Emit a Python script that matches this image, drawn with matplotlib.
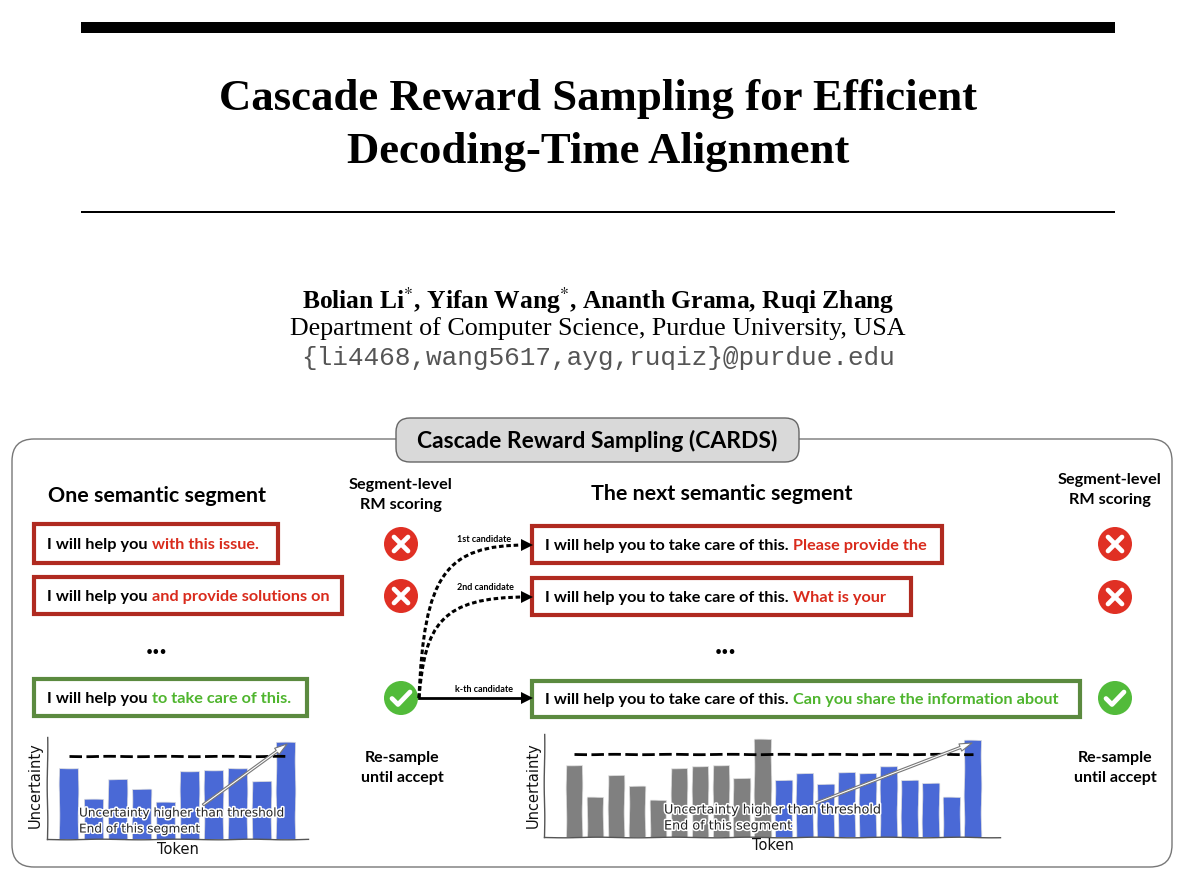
import matplotlib
matplotlib.use("Agg")
import matplotlib.pyplot as plt
from matplotlib.patches import FancyBboxPatch, Rectangle, Circle, PathPatch
from matplotlib.path import Path
import matplotlib.patheffects as pe

W, H = 1200, 891
SERIF = "Liberation Serif"
MONO = "Liberation Mono"
SANS = "Lato"
SKETCH = "DejaVu Sans"
RED, GREEN, DARKRED, DARKGREEN = "#d92b1c", "#4fb52e", "#b02a20", "#5b8a3f"
BLUE, GRAY = "#4a69d6", "#808080"

title_lines = ["Cascade Reward Sampling for Efficient", "Decoding-Time Alignment"]
authors = r"Bolian Li$^{*}$, Yifan Wang$^{*}$, Ananth Grama, Ruqi Zhang"
affiliation = "Department of Computer Science, Purdue University, USA"
emails = "{li4468,wang5617,ayg,ruqiz}@purdue.edu"
banner = "Cascade Reward Sampling (CARDS)"

left_values = [215, 119, 182, 150, 110, 205, 209, 215, 174, 292]
right_gray_values = [217, 121, 186, 154, 112, 208, 212, 217, 176, 295]
right_blue_values = [172, 191, 158, 195, 191, 212, 172, 163, 121, 291]
threshold_left = 249
threshold_right = 250

plt.rcParams["mathtext.fontset"] = "stix"
fig = plt.figure(figsize=(W / 100, H / 100), dpi=100, facecolor="white")
ax = fig.add_axes([0, 0, 1, 1])
ax.set_xlim(0, W)
ax.set_ylim(H, 0)
ax.axis("off")


def inset(x0, y0, x1, y1):
    a = fig.add_axes([x0 / W, 1 - y1 / H, (x1 - x0) / W, (y1 - y0) / H])
    a.patch.set_alpha(0)
    for s in ("top", "right"):
        a.spines[s].set_visible(False)
    for s in ("left", "bottom"):
        a.spines[s].set_color("#555555")
        a.spines[s].set_linewidth(1.0)
        a.spines[s].set_sketch_params(0.3, 80, 2)
    a.set_xticks([])
    a.set_yticks([])
    return a


def runs(x, y, parts, size=11.7, family=SANS):
    r = fig.canvas.get_renderer()
    for s, c in parts:
        ax.text(x, y, s, color=c, fontsize=size, fontweight="bold",
                family=family, va="center", ha="left")
        adv = ax.text(0, 0, s.replace(" ", "\u00a0"), fontsize=size,
                      fontweight="bold", family=family)
        x += adv.get_window_extent(r).width
        adv.remove()


def box(x0, y0, x1, y1, color):
    ax.add_patch(Rectangle((x0, y0), x1 - x0, y1 - y0, fc="white", ec=color, lw=3.0))


def cross(cx, cy):
    ax.add_patch(Circle((cx, cy), 17, fc="#e03024", ec="none"))
    d = 7
    for sgn in (1, -1):
        ax.plot([cx - d, cx + d], [cy - sgn * d, cy + sgn * d], color="white",
                lw=3.4, solid_capstyle="round")


def check(cx, cy):
    ax.add_patch(Circle((cx, cy), 17, fc="#52bb3a", ec="none"))
    ax.plot([cx - 9, cx - 3, cx + 9], [cy + 0.5, cy + 6.5, cy - 6], color="white",
            lw=3.4, solid_capstyle="round", solid_joinstyle="round")


def curve(p0, p1, p2, p3):
    ax.add_patch(PathPatch(Path([p0, p1, p2, p3], [1, 4, 4, 4]), fc="none", ec="black",
                           lw=2.2, ls=(0, (1.5, 0.9))))
    ax.plot([p3[0]], [p3[1]], marker=">", color="black", ms=8, mew=0)


# Header
ax.add_patch(Rectangle((81, 22), 1034, 11, fc="black", ec="none"))
ax.add_patch(Rectangle((81, 211), 1034, 2.4, fc="black", ec="none"))
ax.text(598, 99, title_lines[0], family=SERIF, fontweight="bold", fontsize=32.2, ha="center", va="center")
ax.text(598, 152, title_lines[1], family=SERIF, fontweight="bold", fontsize=32.2, ha="center", va="center")
ax.text(598, 301, authors, family=SERIF, fontweight="bold", fontsize=18.4, ha="center", va="center")
ax.text(598, 329, affiliation, family=SERIF, fontsize=18.7, ha="center", va="center")
ax.text(598, 358, emails, family=MONO, fontsize=18.8, ha="center", va="center", color="#555555")

# Frame and banner
ax.add_patch(FancyBboxPatch((32, 459), 1120, 388, boxstyle="round,pad=20,rounding_size=22",
                            fc="white", ec="#777777", lw=1.0))
ax.add_patch(FancyBboxPatch((408, 430), 379, 20, boxstyle="round,pad=12,rounding_size=14",
                            fc="#d9d9d9", ec="#666666", lw=1.0))
ax.text(597, 441, banner, family=SANS, fontweight="bold", fontsize=16.5, ha="center", va="center")

# Headings
ax.text(156.5, 496, "One semantic segment", family=SANS, fontweight="bold", fontsize=15.4, ha="center", va="center")
ax.text(722, 494, "The next semantic segment", family=SANS, fontweight="bold", fontsize=15.4, ha="center", va="center")
for cx, cy in ((401, 495), (1110, 490)):
    ax.text(cx, cy, "Segment-level\nRM scoring", family=SANS, fontweight="bold", fontsize=11.7, ha="center", va="center", linespacing=1.5)
for cx, cy in ((402, 768), (1115, 768)):
    ax.text(cx, cy, "Re-sample\nuntil accept", family=SANS, fontweight="bold", fontsize=11.5, ha="center", va="center", linespacing=1.5)

# Segment boxes
box(34, 524, 278, 563, DARKRED)
box(34, 577, 342, 614, DARKRED)
box(34, 679, 307, 716, DARKGREEN)
box(532, 526, 942, 563, DARKRED)
box(532, 578, 911, 615, DARKRED)
box(532, 681, 1080, 717, DARKGREEN)
P1 = "I will help you "
P2 = "I will help you to take care of this. "
runs(47, 545, [(P1, "black"), ("with this issue.", RED)])
runs(47, 597, [(P1, "black"), ("and provide solutions on", RED)])
runs(47, 699, [(P1, "black"), ("to take care of this.", GREEN)])
runs(545, 546, [(P2, "black"), ("Please provide the", RED)])
runs(545, 598, [(P2, "black"), ("What is your", RED)])
runs(545, 700, [(P2, "black"), ("Can you share the information about", GREEN)])
for cx in (157, 726):
    ax.text(cx, 645, "...", family=SANS, fontweight="bold", fontsize=22, ha="center", va="center")

# Icons
cross(401, 544); cross(401, 596); check(401, 698)
cross(1115, 544); cross(1115, 597); check(1115, 698)

# Connectors
curve((419, 698), (424, 575), (445, 545), (527, 545))
curve((419, 698), (425, 625), (440, 597), (527, 597))
ax.plot([419, 525], [698, 698], color="black", lw=2.0)
ax.plot([527], [698], marker=">", color="black", ms=8, mew=0)
ax.text(484, 540, "1st candidate", family=SANS, fontweight="bold", fontsize=6.5, ha="center", va="center")
ax.text(485, 588, "2nd candidate", family=SANS, fontweight="bold", fontsize=6.5, ha="center", va="center")
ax.text(484, 689, "k-th candidate", family=SANS, fontweight="bold", fontsize=6.5, ha="center", va="center")


def draw_chart(a, gray, blue, thr, bar_w):
    n_g = len(gray)
    xs_g = list(range(n_g))
    xs_b = list(range(n_g, n_g + len(blue)))
    if gray:
        for b in a.bar(xs_g, gray, width=bar_w, color=GRAY, edgecolor="#dddddd", lw=0.5):
            b.set_sketch_params(0.35, 60, 2)
    for b in a.bar(xs_b, blue, width=bar_w, color=BLUE, edgecolor="#dddddd", lw=0.5):
        b.set_sketch_params(0.35, 60, 2)
    line, = a.plot([0, n_g + len(blue) - 1], [thr, thr], color="black", lw=2.0, ls=(0, (4.5, 1.6)))
    line.set_sketch_params(0.2, 60, 2)
    a.set_ylim(0, 307)


a1 = inset(47, 737, 308, 839)
draw_chart(a1, [], left_values, threshold_left, 0.79)
a1.set_xlim(-0.91, 9.92)
a2 = inset(544, 734, 1000, 837)
draw_chart(a2, right_gray_values, right_blue_values, threshold_right, 0.8)
a2.set_xlim(-1.43, 20.3)
a2.set_ylim(0, 309)

ov = fig.add_axes([0, 0, 1, 1])
ov.set_xlim(0, W); ov.set_ylim(H, 0); ov.axis("off"); ov.patch.set_alpha(0)
halo = [pe.withStroke(linewidth=2.2, foreground="white")]


def note(x, y1, y2, tail, tip, size):
    ov.annotate("", xy=tip, xytext=tail,
                arrowprops=dict(arrowstyle="simple,head_width=0.55,head_length=0.9,tail_width=0.16",
                                fc="white", ec="#777777", lw=0.8, shrinkA=0, shrinkB=0))
    for y, s in ((y1, "Uncertainty higher than threshold"), (y2, "End of this segment")):
        ov.text(x, y, s, family=SKETCH, fontsize=size, color="#222222", ha="left", va="center", path_effects=halo)


note(79, 813, 829, (203, 805), (287, 744), 8.7)
note(664, 810, 826, (816, 803), (972, 743), 9.2)

for x, y, s, rot in ((35, 785, "Uncertainty", 90), (533, 785, "Uncertainty", 90),
                     (178, 849, "Token", 0), (773, 846, "Token", 0)):
    ov.text(x, y, s, family=SKETCH, fontsize=10.5, rotation=rot, ha="center", va="center", color="#111111")

fig.savefig("out.png", dpi=100)
